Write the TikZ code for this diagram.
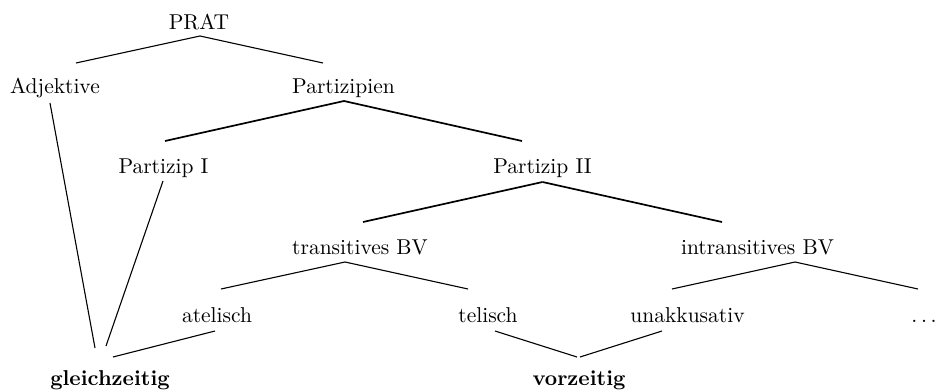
\documentclass[tikz,border=0pt]{standalone}
\usepackage{tikz}

\begin{document}
\begin{tikzpicture}[x=1pt,y=-1pt,
  cat/.style={inner sep=0pt,anchor=base,scale=2,font=\fontsize{10.75}{13}\selectfont},
  res/.style={cat,font=\fontsize{10.75}{13}\selectfont\bfseries},
  br/.style={line width=1.1pt},
  hbr/.style={line width=1.7pt}]
  \useasboundingbox (0,0) rectangle (941,391);

  % categories
  \node[cat] (prat)    at (199,29)    {PRAT};
  \node[cat] (adj)     at (55,93)     {Adjektive};
  \node[cat] (part)    at (343.5,93)  {Partizipien};
  \node[cat] (p1)      at (163.5,173) {Partizip I};
  \node[cat] (p2)      at (542.5,173) {Partizip II};
  \node[cat] (trans)   at (360,254)   {transitives BV};
  \node[cat] (intrans) at (757.5,254) {intransitives BV};
  \node[cat] (atel)    at (217,322)   {atelisch};
  \node[cat] (tel)     at (488,322)   {telisch};
  \node[cat] (unakk)   at (687.5,322) {unakkusativ};
  \node[cat] (more)    at (924,322)   {.\kern.17em.\kern.17em.};

  % readings
  \node[res] (gleich)  at (110,385)   {gleichzeitig};
  \node[res] (vor)     at (579,385)   {vorzeitig};

  % tree
  \draw[br]  ([xshift=1,yshift=-7]prat.base)  -- ([xshift=21,yshift=30]adj.base);
  \draw[br]  ([xshift=1,yshift=-7]prat.base)  -- ([xshift=-20.5,yshift=30]part.base);
  \draw[hbr] ([xshift=0.5,yshift=-8]part.base) -- ([xshift=1.5,yshift=32]p1.base);
  \draw[hbr] ([xshift=0.5,yshift=-8]part.base) -- ([xshift=-20.5,yshift=32]p2.base);
  \draw[hbr] ([yshift=-9]p2.base) -- ([xshift=3,yshift=32]trans.base);
  \draw[hbr] ([yshift=-9]p2.base) -- ([xshift=-35.5,yshift=32]intrans.base);
  \draw[br]  ([xshift=-15,yshift=-8]trans.base) -- ([xshift=4,yshift=33]atel.base);
  \draw[br]  ([xshift=-15,yshift=-8]trans.base) -- ([xshift=-20,yshift=33]tel.base);
  \draw[br]  ([xshift=37.5,yshift=-8]intrans.base) -- ([xshift=-15.5,yshift=33]unakk.base);
  \draw[br]  ([xshift=37.5,yshift=-8]intrans.base) -- ([xshift=-6,yshift=33]more.base);

  % links to the readings
  \draw[br] ([xshift=-5,yshift=-10]adj.base)  -- ([xshift=-15,yshift=37]gleich.base);
  \draw[br] ([xshift=-0.5,yshift=-8]p1.base)  -- ([xshift=-4,yshift=39]gleich.base);
  \draw[br] ([xshift=-2,yshift=-9]atel.base)  -- ([xshift=3,yshift=28]gleich.base);
  \draw[br] ([xshift=7,yshift=-9]tel.base)    -- ([xshift=-2,yshift=28]vor.base);
  \draw[br] ([xshift=-25.5,yshift=-9]unakk.base) -- ([xshift=1,yshift=28]vor.base);
\end{tikzpicture}
\end{document}
